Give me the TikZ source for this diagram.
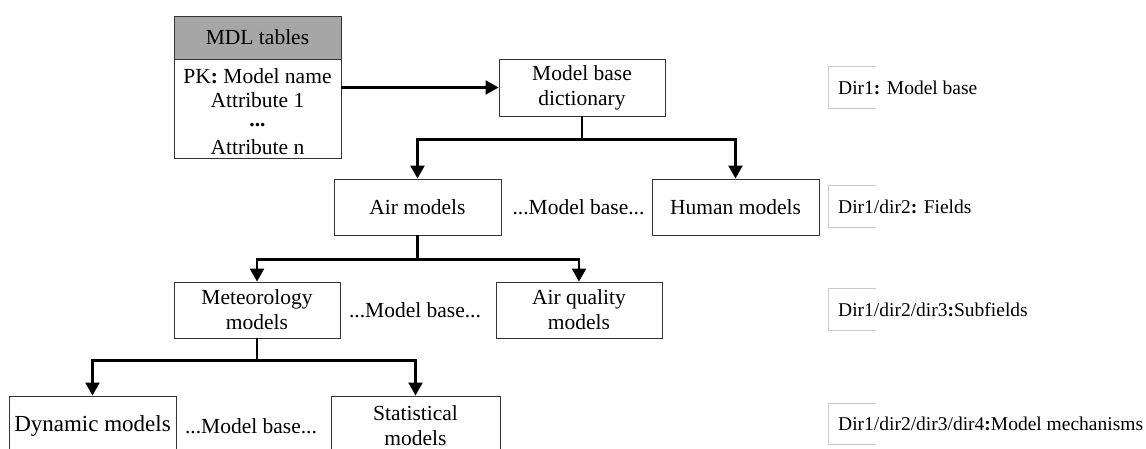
\documentclass[tikz,border=0pt]{standalone}
\usepackage{fontspec}
\setmainfont{Liberation Serif}
\usetikzlibrary{arrows.meta,calc}
\definecolor{hdr}{HTML}{A6A6A6}
\definecolor{brk}{HTML}{CCCCCC}
\definecolor{edge}{HTML}{333333}
\begin{document}
\begin{tikzpicture}[x=1pt,y=-1pt,
  every node/.style={font=\fontsize{21.5}{25}\selectfont, inner sep=0pt, align=center},
  box/.style={draw=edge, line width=0.9pt, fill=white},
  conn/.style={line width=2.2pt, -{Triangle[width=14pt,length=13pt]}},
  lbl/.style={anchor=west, font=\fontsize{19.5}{23}\selectfont},
  brack/.style={minimum width=47pt, minimum height=41pt},
  plain/.style={}]
\useasboundingbox (0,0) rectangle (1146,449);
\clip (0,0) rectangle (1146,449);
% MDL table
\node[box, fill=hdr, minimum width=167pt, minimum height=43pt] (mdlh) at (257.5,37.5) {MDL tables};
\node[box, minimum width=167pt, minimum height=99pt, anchor=north] (mdlb) at (mdlh.south) {};
\node (pk) at (257.5,76) {PK\textbf{:} Model name};
\node (a1) at (257.5,100) {Attribute 1};
\node[anchor=base] (dots) at (257.5,127) {\textbf{...}};
\node (an) at (257.5,147) {Attribute n};
% level nodes
\node[box, minimum width=166pt, minimum height=57pt] (mbd) at (582,87.5) {Model base\\dictionary};
\node[box, minimum width=167pt, minimum height=56pt] (air) at (417.5,207) {Air models};
\node[plain] (mb1) at (578.5,207) {...Model base...};
\node[box, minimum width=167pt, minimum height=56pt] (hum) at (735.5,207) {Human models};
\node[box, minimum width=166pt, minimum height=56pt] (met) at (257,310) {Meteorology\\models};
\node[plain] (mb2) at (415,310) {...Model base...};
\node[box, minimum width=166pt, minimum height=56pt] (aq) at (579,310) {Air quality\\models};
\node[box, minimum width=167pt, minimum height=60pt, font=\fontsize{23}{26}\selectfont] (dyn) at (92.5,426) {Dynamic models};
\node[plain] (mb3) at (251,426) {...Model base...};
\node[box, minimum width=169pt, minimum height=60pt] (sta) at (415.5,426) {Statistical\\models};
% connectors
\draw[conn] (mdlb.east |- mbd.west) -- (mbd.west);
\draw[conn] (mbd.south) -- ++(0,23) -| (air.north);
\draw[conn] (mbd.south) -- ++(0,23) -| (hum.north);
\draw[conn] (air.south) -- ++(0,24) -| (met.north);
\draw[conn] (air.south) -- ++(0,24) -| (aq.north);
\draw[conn] (met.south) -- ++(0,22) -| (dyn.north);
\draw[conn] (met.south) -- ++(0,22) -| (sta.north);
% directory labels
\foreach \n/\y/\t in {b1/87.5/{Dir1\textbf{:} Model base},
                      b2/206.5/{Dir1/dir2\textbf{:} Fields},
                      b3/309.5/{Dir1/dir2/dir3\textbf{:}Subfields},
                      b4/424/{Dir1/dir2/dir3/dir4\textbf{:}Model mechanisms}}{
  \node[brack] (\n) at (852.5,\y) {};
  \draw[brk, line width=0.8pt] (\n.north east) -- (\n.north west) -- (\n.south west) -- (\n.south east);
  \node[lbl] (t\n) at (838,\y) {\t};
}
\end{tikzpicture}
\end{document}
